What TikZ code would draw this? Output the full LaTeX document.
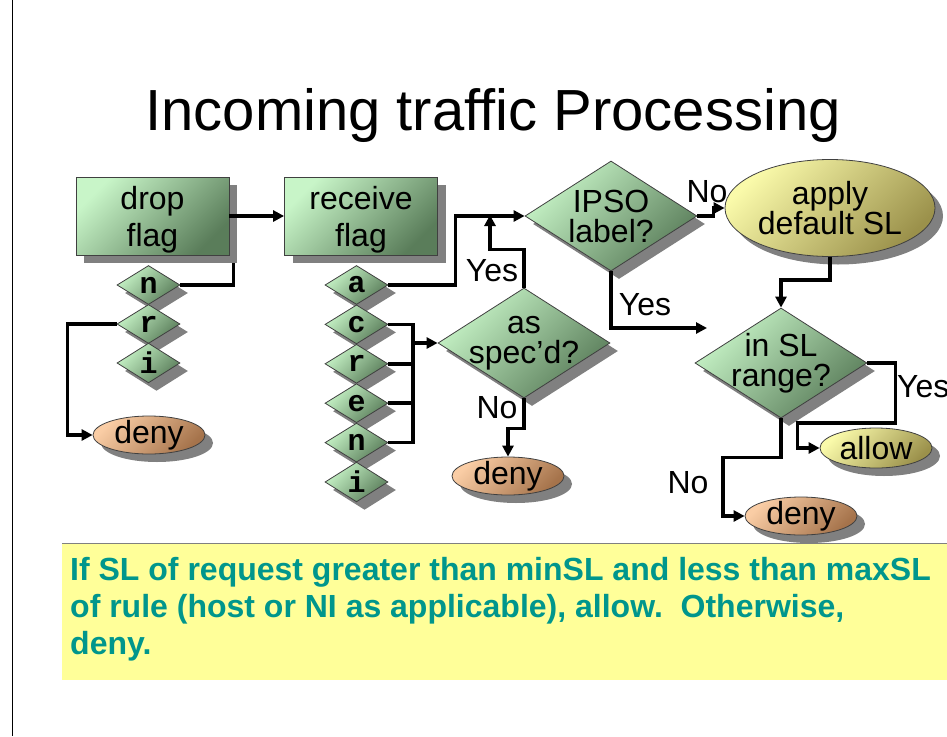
\documentclass[tikz,border=0pt]{standalone}
\usepackage{fontspec}
\setmainfont{Liberation Sans}
\newfontfamily\flagfont{Liberation Mono}
\usetikzlibrary{arrows.meta,positioning,calc,shapes.geometric,shadows}

\definecolor{greenlt}{RGB}{200,245,200}
\definecolor{greendk}{RGB}{90,125,90}
\definecolor{tanlt}{RGB}{250,205,165}
\definecolor{tandk}{RGB}{165,115,75}
\definecolor{yellowlt}{RGB}{250,250,170}
\definecolor{yellowdk}{RGB}{155,145,75}
\definecolor{notebg}{RGB}{255,255,153}
\definecolor{noteink}{RGB}{0,150,140}

\tikzset{
  shaded/.style 2 args={left color=#1, right color=#2, shading angle=45,
    draw=black!75, line width=0.8pt,
    drop shadow={shadow xshift=8pt, shadow yshift=-8pt, fill=black!50, opacity=1}},
  flagbox/.style={rectangle, shaded={greenlt}{greendk}, minimum width=153pt,
    minimum height=78pt, align=center, text depth=0pt, font=\fontsize{32}{37}\selectfont},
  bit/.style={diamond, shaded={greenlt}{greendk}, minimum width=63pt,
    minimum height=39pt, inner sep=0pt, font=\flagfont\bfseries\fontsize{30}{30}\selectfont},
  test/.style={diamond, shaded={greenlt}{greendk}, minimum width=172pt,
    minimum height=110pt, inner sep=0pt},
  endpoint/.style={ellipse, shaded={tanlt}{tandk}, minimum width=112pt,
    minimum height=38pt, inner sep=0pt},
  action/.style={ellipse, shaded={yellowlt}{yellowdk}, minimum width=112pt,
    minimum height=40pt, inner sep=0pt},
  inner/.style={align=center, inner sep=0pt, font=\fontsize{32}{30}\selectfont},
  tag/.style={inner sep=0pt, font=\fontsize{32}{32}\selectfont},
  heading/.style={inner sep=0pt, font=\fontsize{58}{60}\selectfont},
  note/.style={align=left, inner sep=0pt, text=noteink,
    font=\bfseries\fontsize{32}{37}\selectfont},
  wire/.style={line width=3.5pt},
  arr/.style={wire, -{Triangle[length=11pt,width=11pt]}}
}

\begin{document}
\begin{tikzpicture}[x=1pt,y=-1pt]
\useasboundingbox (0,0) rectangle (947,736);
% slide edge and note panel
\draw[line width=1pt] (12,0) -- (12,736);
\fill[notebg] (62,543) rectangle (947,680);
\draw[black!50,line width=1pt] (62,543) -- (947,543);
\node[heading,anchor=base] (title) at (493,130) {Incoming traffic Processing};

% flags
\node[flagbox] (drop) at (152.5,216) {drop\\flag};
\node[flagbox] (recv) at (361,216) {receive\\flag};
\node[bit] (dn) at (148.5,285) {n};
\node[bit] (dr) at (148.5,324) {r};
\node[bit] (di) at (148.5,363) {i};
\foreach \f [count=\k] in {a,c,r,e,n,i}
  \node[bit] (r\f) at (356.5,{245.6+39.4*\k}) {\f};

% decisions and outcomes
\node[test,label={[inner]center:IPSO\\label?}] (ipso) at (611,216) {};
\node[test,label={[inner]center:as\\spec’d?}] (spec) at (524,343) {};
\node[test,label={[inner]center:in SL\\range?}] (range) at (781,363) {};
\node[action,minimum width=210pt,minimum height=97pt,
  label={[inner]center:apply\\default SL}] (apply) at (830,208) {};
\node[action,label={[inner]center:allow}] (allow) at (876,448) {};
\node[endpoint,label={[inner]center:deny}] (deny1) at (149,435) {};
\node[endpoint,label={[inner]center:deny}] (deny2) at (508,476) {};
\node[endpoint,label={[inner]center:deny}] (deny3) at (801,516) {};

% connectors
\draw[arr] (drop) -- (recv);
\draw[wire] (dn.east) -| ([xshift=4pt,yshift=-8pt]drop.south east);
\draw[arr] (dr.west) -- ++(-49,0) |- (deny1.west);
\draw[arr] (ra.east) -- ++(67,0) |- (ipso.west);
\coordinate (bus) at (413,343);
\draw[wire] (rc.east) -| (bus |- rn.east) -- (rn.east);
\foreach \f in {rr,re}
  \draw[wire] (\f.east) -- (bus |- \f.east);
\draw[arr] (bus) -- (spec.west);
\coordinate (yesjoin) at (490,215);
\draw[arr] (spec.north) -- ++(0,-38) -| (yesjoin);
\node[tag] (yes1) at (492,271) {Yes};
\draw[arr] (spec.south) -- ++(0,30) -| (deny2.north);
\node[tag] (no1) at (497,408) {No};
\draw[arr] (ipso.east) -- ++(16,0) |- (apply.west);
\node[tag] (no2) at (707,192) {No};
\coordinate (yesend) at (707,328);
\draw[arr] (ipso.south) |- (yesend);
\node[tag] (yes2) at (645,305) {Yes};
\draw[arr] (apply.south) -- ++(0,23) -| (range.north);
\draw[arr] (range.east) -- ++(28,0) -- ++(0,60) -- ++(-98,0) |- (allow.west);
\node[tag,anchor=west] (yes3) at (897,387) {Yes};
\draw[arr] (range.south) -- ++(0,39) -- ++(-58,0) |- (deny3.west);
\node[tag] (no3) at (688,483) {No};

% rule text
\node[note,anchor=north west] (rule) at (70,557)
  {If SL of request greater than minSL and less than maxSL\\
   of rule (host or NI as applicable), allow.\ \ Otherwise,\\
   deny.};
\end{tikzpicture}
\end{document}
